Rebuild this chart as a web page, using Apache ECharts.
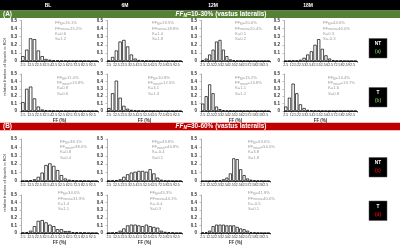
<!DOCTYPE html>
<html>
<head>
<meta charset="utf-8">
<script src="https://cdn.jsdelivr.net/npm/echarts@6/dist/echarts.min.js"></script>
<style>
html, body { margin: 0; padding: 0; background: #fff; }
#main { width: 400px; height: 246px; }
</style>
</head>
<body>
<div id="main"></div>
<script>
// histogram bins (FF %, 5% wide)
var bins = ['2.5', '7.5', '12.5', '17.5', '22.5', '27.5', '32.5', '37.5', '42.5', '47.5',
            '52.5', '57.5', '62.5', '67.5', '72.5', '77.5', '82.5', '87.5', '92.5', '97.5'];
var timePoints = ['BL', '6M', '12M', '18M'];

// (A) FF_M = 10-30%, non-treated (a)
var a_NT_BL  = [0.06, 0.14, 0.28, 0.27, 0.13, 0.06, 0.025, 0.015, 0.008, 0.005, 0.004, 0.003, 0.002, 0.002, 0.001, 0.001, 0.001, 0, 0, 0];
var a_NT_6M  = [0.005, 0.05, 0.13, 0.24, 0.26, 0.18, 0.08, 0.03, 0.012, 0.006, 0.004, 0.002, 0.002, 0.001, 0.001, 0, 0, 0, 0, 0];
var a_NT_12M = [0.01, 0.03, 0.08, 0.14, 0.24, 0.26, 0.14, 0.06, 0.02, 0.01, 0.005, 0.003, 0.002, 0.001, 0, 0, 0, 0, 0, 0];
var a_NT_18M = [0, 0.002, 0.005, 0.005, 0.015, 0.04, 0.08, 0.12, 0.2, 0.27, 0.15, 0.07, 0.03, 0.01, 0.004, 0.002, 0.001, 0, 0, 0];
// (A) treated (b)
var a_T_BL   = [0.12, 0.3, 0.33, 0.17, 0.06, 0.02, 0.01, 0.005, 0.003, 0.002, 0.002, 0.001, 0.001, 0.001, 0, 0, 0, 0, 0, 0];
var a_T_6M   = [0.04, 0.24, 0.41, 0.18, 0.07, 0.03, 0.015, 0.008, 0.004, 0.002, 0.002, 0.001, 0.001, 0, 0, 0, 0, 0, 0, 0];
var a_T_12M  = [0.1, 0.2, 0.36, 0.24, 0.06, 0.025, 0.01, 0.005, 0.003, 0.002, 0.001, 0.001, 0, 0, 0, 0, 0, 0, 0, 0];
var a_T_18M  = [0.06, 0.18, 0.37, 0.24, 0.09, 0.04, 0.015, 0.008, 0.004, 0.002, 0.002, 0.001, 0, 0, 0, 0, 0, 0, 0, 0];
// (B) FF_M = 30-60%, non-treated (c)
var b_NT_BL  = [0.002, 0.004, 0.01, 0.02, 0.05, 0.1, 0.19, 0.21, 0.18, 0.13, 0.07, 0.03, 0.015, 0.01, 0.005, 0.003, 0.002, 0.001, 0, 0];
var b_NT_6M  = [0.002, 0.005, 0.01, 0.02, 0.05, 0.08, 0.1, 0.11, 0.12, 0.12, 0.11, 0.14, 0.09, 0.04, 0.015, 0.005, 0.002, 0, 0, 0];
var b_NT_12M = [0, 0, 0, 0.002, 0.005, 0.01, 0.02, 0.04, 0.09, 0.27, 0.26, 0.14, 0.07, 0.03, 0.015, 0.008, 0.004, 0.002, 0, 0];
// (B) treated (d)
var b_T_BL   = [0.005, 0.01, 0.03, 0.09, 0.16, 0.17, 0.14, 0.11, 0.09, 0.05, 0.05, 0.025, 0.025, 0.01, 0.01, 0.005, 0.005, 0, 0, 0];
var b_T_6M   = [0, 0.005, 0.01, 0.03, 0.06, 0.1, 0.11, 0.11, 0.1, 0.09, 0.11, 0.09, 0.08, 0.07, 0.03, 0.015, 0.01, 0.005, 0, 0];
var b_T_12M  = [0.005, 0.01, 0.03, 0.09, 0.11, 0.11, 0.11, 0.1, 0.1, 0.1, 0.08, 0.06, 0.05, 0.03, 0.01, 0.005, 0.003, 0, 0, 0];

// stats printed in each panel: FF_M, FF_mean, K, S
var s_a_NT = [['16.1', '15.2', '0.6', '1.2'], ['19.5', '18.8', '1.4', '1.8'], ['20.6', '20.4', '0.1', '0.2'], ['44.6', '46.0', '0.3', '-0.3']];
var s_a_T  = [['11.4', '13.8', '0.8', '0.6'], ['10.8', '12.5', '3.1', '1.3'], ['15.2', '14.8', '1.1', '1.2'], ['14.4', '13.7', '1.6', '0.8']];
var s_b_NT = [['38.1', '38.0', '0.8', '0.4'], ['43.8', '44.8', '-0.4', '0.1'], ['53.6', '54.0', '3.8', '1.8']];
var s_b_T  = [['34.0', '31.9', '1.4', '1.1'], ['45.3', '44.1', '-0.4', '0.3'], ['41.8', '40.0', '-0.5', '0.1']];

var panels = [
  {r: 0, c: 0, d: a_NT_BL, s: s_a_NT[0], tx: 34}, {r: 0, c: 1, d: a_NT_6M, s: s_a_NT[1], tx: 45},
  {r: 0, c: 2, d: a_NT_12M, s: s_a_NT[2], tx: 34}, {r: 0, c: 3, d: a_NT_18M, s: s_a_NT[3], tx: 39},
  {r: 1, c: 0, d: a_T_BL, s: s_a_T[0], tx: 36}, {r: 1, c: 1, d: a_T_6M, s: s_a_T[1], tx: 41},
  {r: 1, c: 2, d: a_T_12M, s: s_a_T[2], tx: 34}, {r: 1, c: 3, d: a_T_18M, s: s_a_T[3], tx: 44},
  {r: 2, c: 0, d: b_NT_BL, s: s_b_NT[0], tx: 39}, {r: 2, c: 1, d: b_NT_6M, s: s_b_NT[1], tx: 45},
  {r: 2, c: 2, d: b_NT_12M, s: s_b_NT[2], tx: 47},
  {r: 3, c: 0, d: b_T_BL, s: s_b_T[0], tx: 37}, {r: 3, c: 1, d: b_T_6M, s: s_b_T[1], tx: 43},
  {r: 3, c: 2, d: b_T_12M, s: s_b_T[2], tx: 47}
];

var colLeft = [21, 107, 201, 284];
var colWidth = [77, 75, 69, 73];
var rowTop = [20.5, 74, 139, 195];
var rowHeight = [40.5, 37, 42, 38];
var statTop = [20.5, 75, 139, 190.5];
var headX = [48, 125, 213, 308];

var FONT = 'Liberation Sans, Arial, sans-serif';
var grids = [], xAxes = [], yAxes = [], series = [], graphics = [];

panels.forEach(function (p, i) {
  grids.push({left: colLeft[p.c], width: colWidth[p.c], top: rowTop[p.r], height: rowHeight[p.r]});
  var bottomRow = (p.r === 1 || p.r === 3);
  xAxes.push({
    type: 'category', gridIndex: i, data: bins,
    axisLine: {lineStyle: {color: '#000', width: 0.8}},
    axisTick: {show: true, length: 1.5, lineStyle: {color: '#000', width: 0.6}},
    axisLabel: {interval: 1, fontSize: 3.6, color: '#333', margin: 2, fontFamily: FONT},
    name: bottomRow ? 'FF (%)' : '', nameLocation: 'middle', nameGap: 7,
    nameTextStyle: {fontSize: 4.5, fontWeight: 'bold', color: '#333', fontFamily: FONT}
  });
  yAxes.push({
    type: 'value', gridIndex: i, min: 0, max: 0.5, interval: 0.1,
    axisLine: {show: true, lineStyle: {color: '#999', width: 0.8}},
    axisTick: {show: true, length: 1.5, lineStyle: {color: '#999', width: 0.6}},
    axisLabel: {fontSize: 4.5, color: '#333', margin: 4, fontWeight: 'bold', fontFamily: FONT},
    splitLine: {show: false}
  });
  series.push({
    type: 'bar', xAxisIndex: i, yAxisIndex: i, data: p.d,
    barCategoryGap: '12%', silent: true,
    itemStyle: {color: '#fff', borderColor: '#000', borderWidth: 0.7}
  });
  graphics.push({
    type: 'text', x: colLeft[p.c] + p.tx, y: statTop[p.r], silent: true,
    style: {
      text: '{n|FF}{s|M}{n|=' + p.s[0] + '%}\n{n|FF}{s|mean}{n|=' + p.s[1] + '%}\n{n|K=' + p.s[2] + '}\n{n|S=' + p.s[3] + '}',
      rich: {
        n: {fontSize: 4.2, fill: '#9a9a9a', fontFamily: FONT, lineHeight: 5.3},
        s: {fontSize: 3, fill: '#9a9a9a', fontFamily: FONT, lineHeight: 5.3, verticalAlign: 'bottom'}
      }
    }
  });
});

// header bands
graphics.push({type: 'rect', shape: {x: 0, y: 0, width: 400, height: 10.5}, style: {fill: '#000'}, silent: true});
timePoints.forEach(function (t, k) {
  graphics.push({type: 'text', x: headX[k], y: 5.5, silent: true,
    style: {text: t, fill: '#fff', font: 'bold 5px ' + FONT, align: 'center', verticalAlign: 'middle'}});
});
function band(y, color, tag, range) {
  graphics.push({type: 'rect', shape: {x: 0, y: y, width: 400, height: 7.5}, style: {fill: color}, silent: true});
  graphics.push({type: 'text', x: 3, y: y + 3.9, silent: true,
    style: {text: tag, fill: '#fff', font: 'bold 6.5px ' + FONT, verticalAlign: 'middle'}});
  graphics.push({type: 'text', x: 221, y: y + 3.9, silent: true,
    style: {
      text: '{i|FF}{sb|M}{b|=' + range + ' (vastus lateralis)}', align: 'center', verticalAlign: 'middle',
      rich: {
        i: {fontSize: 6.5, fontWeight: 'bold', fontStyle: 'italic', fill: '#fff', fontFamily: FONT},
        sb: {fontSize: 4.5, fontWeight: 'bold', fontStyle: 'italic', fill: '#fff', fontFamily: FONT, verticalAlign: 'bottom'},
        b: {fontSize: 6.5, fontWeight: 'bold', fill: '#fff', fontFamily: FONT}
      }
    }});
}
band(10.5, '#548235', '(A)', '10-30%');
band(122.7, '#c00000', '(B)', '30-60%');

// group labels
function tagBox(y, name, letter, color) {
  graphics.push({type: 'rect', shape: {x: 369, y: y, width: 18, height: 19.5},
    style: {fill: '#000', stroke: '#555', lineWidth: 0.5}, silent: true});
  graphics.push({type: 'text', x: 378, y: y + 5.5, silent: true,
    style: {text: name, fill: '#fff', font: 'bold 4.8px ' + FONT, align: 'center', verticalAlign: 'middle'}});
  graphics.push({type: 'text', x: 378, y: y + 13.5, silent: true,
    style: {text: letter, fill: color, font: 'bold 4.8px ' + FONT, align: 'center', verticalAlign: 'middle'}});
}
tagBox(38.5, 'NT', '(a)', '#70ad47');
tagBox(87.5, 'T', '(b)', '#70ad47');
tagBox(157.5, 'NT', '(c)', '#e00000');
tagBox(201, 'T', '(d)', '#e00000');

// shared y-axis titles
[[5, 67], [5, 183]].forEach(function (pos) {
  graphics.push({type: 'text', x: pos[0], y: pos[1], rotation: Math.PI / 2, silent: true,
    style: {text: 'relative fraction of #pixels in ROI', fill: '#333', font: '4px ' + FONT,
      align: 'center', verticalAlign: 'middle'}});
});

var myChart = echarts.init(document.getElementById('main'));
myChart.setOption({
  animation: false,
  grid: grids,
  xAxis: xAxes,
  yAxis: yAxes,
  series: series,
  graphic: graphics
});
</script>
</body>
</html>
